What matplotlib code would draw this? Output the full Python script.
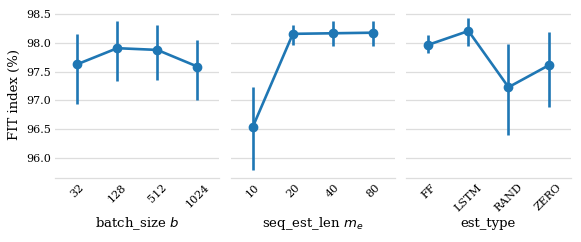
import matplotlib
matplotlib.use("Agg")
import matplotlib.pyplot as plt
import numpy as np

batch_cats = ["32", "128", "512", "1024"]
batch_mean = [97.63, 97.91, 97.88, 97.59]
batch_lo = [96.93, 97.33, 97.36, 97.01]
batch_hi = [98.16, 98.38, 98.31, 98.06]

seq_cats = ["10", "20", "40", "80"]
seq_mean = [96.54, 98.16, 98.17, 98.18]
seq_lo = [95.78, 97.97, 97.94, 97.95]
seq_hi = [97.24, 98.31, 98.38, 98.38]

est_cats = ["FF", "LSTM", "RAND", "ZERO"]
est_mean = [97.97, 98.21, 97.23, 97.61]
est_lo = [97.82, 97.95, 96.40, 96.89]
est_hi = [98.14, 98.43, 97.98, 98.19]

plt.rcParams['font.family'] = ['DejaVu Serif']
plt.rcParams['mathtext.fontset'] = 'dejavusans'

color = "#1f77b4"
fig, axes = plt.subplots(1, 3, figsize=(5.81, 2.42), dpi=100, sharey=True)
fig.subplots_adjust(left=0.095, right=0.982, top=0.955, bottom=0.265, wspace=0.07)

panels = [
    (batch_cats, batch_mean, batch_lo, batch_hi, "batch_size $b$"),
    (seq_cats, seq_mean, seq_lo, seq_hi, "seq_est_len $m_e$"),
    (est_cats, est_mean, est_lo, est_hi, "est_type"),
]

for ax, (cats, mean, lo, hi, xlabel) in zip(axes, panels):
    x = np.arange(len(cats))
    m = np.array(mean)
    yerr = [m - np.array(lo), np.array(hi) - m]
    ax.errorbar(x, m, yerr=yerr, color=color, lw=1.9, elinewidth=1.9,
                marker="o", ms=6, capsize=0, zorder=3)
    ax.set_xticks(x)
    ax.set_xticklabels(cats, rotation=45, fontsize=8)
    ax.set_xlim(-0.55, len(cats) - 0.45)
    ax.set_xlabel(xlabel, fontsize=9.5, va='center')
    ax.xaxis.set_label_coords(0.5, -0.272)
    ax.grid(axis='y', color='#dddddd', lw=0.9)
    ax.set_axisbelow(True)
    for s in ["top", "left", "right"]:
        ax.spines[s].set_visible(False)
    ax.spines["bottom"].set_color('#dddddd')
    ax.spines["bottom"].set_linewidth(0.9)
    ax.tick_params(length=0, labelsize=8, pad=3)

axes[0].set_yticks([96.0, 96.5, 97.0, 97.5, 98.0, 98.5])
axes[0].set_yticklabels(["96.0", "96.5", "97.0", "97.5", "98.0", "98.5"])
axes[0].set_ylim(95.65, 98.56)
axes[0].set_ylabel("FIT index (%)", fontsize=9.5)

fig.savefig("out.png", dpi=100)
